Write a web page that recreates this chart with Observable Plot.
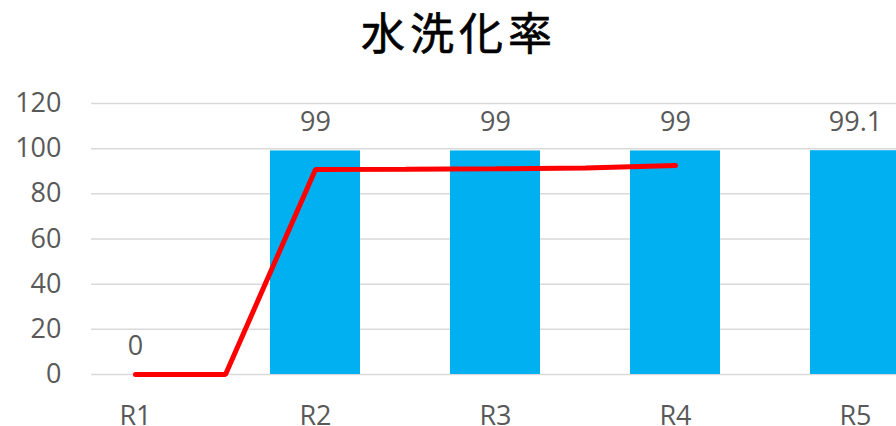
<!DOCTYPE html>
<html>
<head>
<meta charset="utf-8">
<script src="https://cdn.jsdelivr.net/npm/d3@7"></script>
<script src="https://cdn.jsdelivr.net/npm/@observablehq/plot@0.6"></script>
<style>
  html, body { margin: 0; padding: 0; background: #fff; }
  #title { height: 64px; line-height: 62px; text-align: center; font-family: "Noto Sans CJK JP", sans-serif; font-size: 44px; font-weight: 400; letter-spacing: 5px; color: #000; padding-left: 22px; -webkit-text-stroke: 0.6px #000; }
  #chart svg { display: block; }
</style>
</head>
<body>
<div id="title">水洗化率</div>
<div id="chart"></div>
<script>
const categories = ["R1", "R2", "R3", "R4", "R5"];
const barValues = [0, 99, 99, 99, 99.1];
const barLabels = ["0", "99", "99", "99", "99.1"];
const lineX = [1, 1.5, 2, 2.5, 3, 3.5, 4];
const lineValues = [0, 0, 90.8, 90.9, 91.1, 91.4, 92.5];
const yTicks = [0, 20, 40, 60, 80, 100, 120];

const bars = categories.map((c, i) => ({pos: i + 1, value: barValues[i], label: barLabels[i]}));
const linePts = lineX.map((x, i) => ({x, value: lineValues[i]}));

const font = "'Open Sans', sans-serif";
const chart = Plot.plot({
  width: 896,
  height: 362,
  marginLeft: 91,
  marginRight: 0,
  marginTop: 39,
  marginBottom: 52,
  style: {fontFamily: font, background: "#fff"},
  x: {type: "linear", domain: [0.7556, 5.2278], axis: null},
  y: {domain: [0, 120], axis: null},
  marks: [
    Plot.ruleY(yTicks, {stroke: "#d9d9d9", strokeWidth: 1.5}),
    Plot.rectY(bars.filter(d => d.value > 0), {x1: d => d.pos - 0.25, x2: d => d.pos + 0.25, y1: 0, y2: "value", fill: "#00b0f0"}),
    Plot.text(bars, {x: "pos", y: "value", text: "label", dy: -20, lineAnchor: "bottom", fontSize: 27, fill: "#595959"}),
    Plot.line(linePts, {x: "x", y: "value", stroke: "#ff0000", strokeWidth: 5, strokeLinecap: "round", strokeLinejoin: "miter"}),
    Plot.axisY(yTicks, {tickSize: 0, tickPadding: 30, fontSize: 27, color: "#595959", label: null, tickFormat: d => String(d)}),
    Plot.axisX([1, 2, 3, 4, 5], {tickSize: 0, tickPadding: 31, fontSize: 27, color: "#595959", label: null, tickFormat: d => categories[d - 1]})
  ]
});
document.getElementById("chart").appendChild(chart);
</script>
</body>
</html>
